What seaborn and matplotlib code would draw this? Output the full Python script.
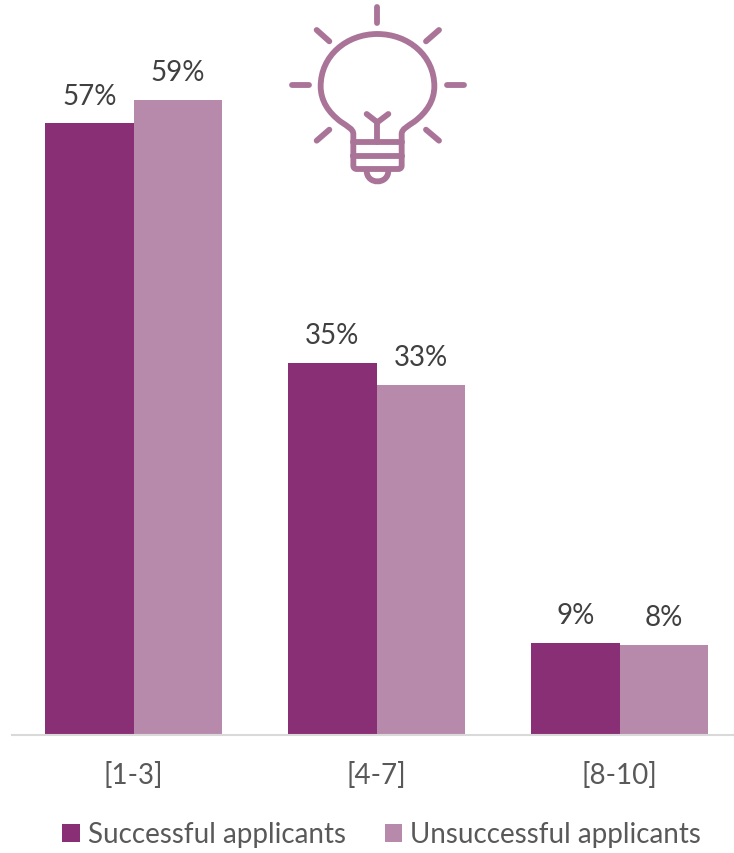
import pandas as pd
import seaborn as sns
from matplotlib import pyplot as plt
from matplotlib.path import Path
from matplotlib.patches import PathPatch

categories = ["[1-3]", "[4-7]", "[8-10]"]
successful = [56.9, 34.6, 8.6]
unsuccessful = [59.1, 32.6, 8.4]
labels_successful = ["57%", "35%", "9%"]
labels_unsuccessful = ["59%", "33%", "8%"]
series_names = ["Successful applicants", "Unsuccessful applicants"]

W, H = 734, 854
ICON = "#A97498"

sns.set_theme(style="white")
plt.rcParams["font.family"] = ["Lato", "DejaVu Sans"]

data = pd.DataFrame({
    "group": categories * 2,
    "value": successful + unsuccessful,
    "series": [series_names[0]] * 3 + [series_names[1]] * 3,
})

fig = plt.figure(figsize=(W / 100, H / 100), dpi=100)
ax = fig.add_axes([12 / W, 1 - 736 / H, 722 / W, 736 / H])
sns.barplot(data, x="group", y="value", hue="series", ax=ax, width=0.728, gap=0,
            palette=["#892F75", "#B78AAC"], saturation=1, linewidth=0)

ax.set_xlim(-0.5, (734 - 133.5) / 243)
ax.set_ylim(0, 736 / 10.75)
ax.set_xlabel("")
ax.set_ylabel("")
ax.set_yticks([])
ax.tick_params(axis="x", length=0, pad=19, labelsize=20, labelcolor="#595959")
sns.despine(ax=ax, left=True)
ax.spines["bottom"].set_color("#D9D9D9")
ax.spines["bottom"].set_linewidth(1.5)

for cont, labs in zip(ax.containers, [labels_successful, labels_unsuccessful]):
    ax.bar_label(cont, labels=labs, padding=10.5, fontsize=20, color="#404040")

handles = ax.get_legend().legend_handles
ax.get_legend().remove()
fig.legend(handles, series_names, loc="center", bbox_to_anchor=(381.5 / W, 1 - 835.5 / H),
           ncol=2, frameon=False, fontsize=20, labelcolor="#595959",
           handlelength=0.62, handleheight=0.62, handletextpad=0.29, columnspacing=1.4,
           borderpad=0, borderaxespad=0)

# lightbulb icon, overlay in pixel coords
ov = fig.add_axes([0, 0, 1, 1])
ov.set_xlim(0, W)
ov.set_ylim(H, 0)
ov.axis("off")
ov.patch.set_alpha(0)


def zx(v):
    return 270 + v / 3


def zy(v):
    return v / 3


rays = [
    (322, 25, 322, 72), (140, 93, 178, 127), (507, 93, 468, 127),
    (65, 259, 116, 259), (530, 259, 582, 259),
    (140, 425, 178, 392), (507, 425, 468, 392),
    (290, 345, 322, 370), (355, 345, 322, 370), (322, 370, 322, 430),
    (250, 430, 395, 430), (250, 470, 395, 470),
]
for x0, y0, x1, y1 in rays:
    ov.plot([zx(x0), zx(x1)], [zy(y0), zy(y1)], color=ICON, lw=4.2, solid_capstyle="round")

bulb = [
    (250, 470), (250, 405),
    (250, 390), (232, 382), (212, 368),
    (175, 340), (152, 305), (152, 262),
    (152, 170), (230, 105), (322, 105),
    (415, 105), (493, 170), (493, 262),
    (493, 305), (470, 340), (433, 368),
    (413, 382), (395, 390), (395, 405),
    (395, 500),
    (395, 507), (390, 510), (385, 510),
    (260, 510),
    (255, 510), (250, 507), (250, 500),
    (250, 470),
]
codes = [Path.MOVETO, Path.LINETO] + [Path.CURVE4] * 18 + [
    Path.LINETO, Path.CURVE4, Path.CURVE4, Path.CURVE4,
    Path.LINETO, Path.CURVE4, Path.CURVE4, Path.CURVE4, Path.LINETO]
ov.add_patch(PathPatch(Path([(zx(a), zy(b)) for a, b in bulb], codes), fill=False,
                       edgecolor=ICON, lw=4.2, capstyle="round", joinstyle="round"))
cap = [(290, 515), (290, 558), (355, 558), (355, 515)]
ov.add_patch(PathPatch(Path([(zx(a), zy(b)) for a, b in cap],
                            [Path.MOVETO, Path.CURVE4, Path.CURVE4, Path.CURVE4]),
                       fill=False, edgecolor=ICON, lw=4.2, capstyle="round"))

fig.savefig("out.png", dpi=100)
